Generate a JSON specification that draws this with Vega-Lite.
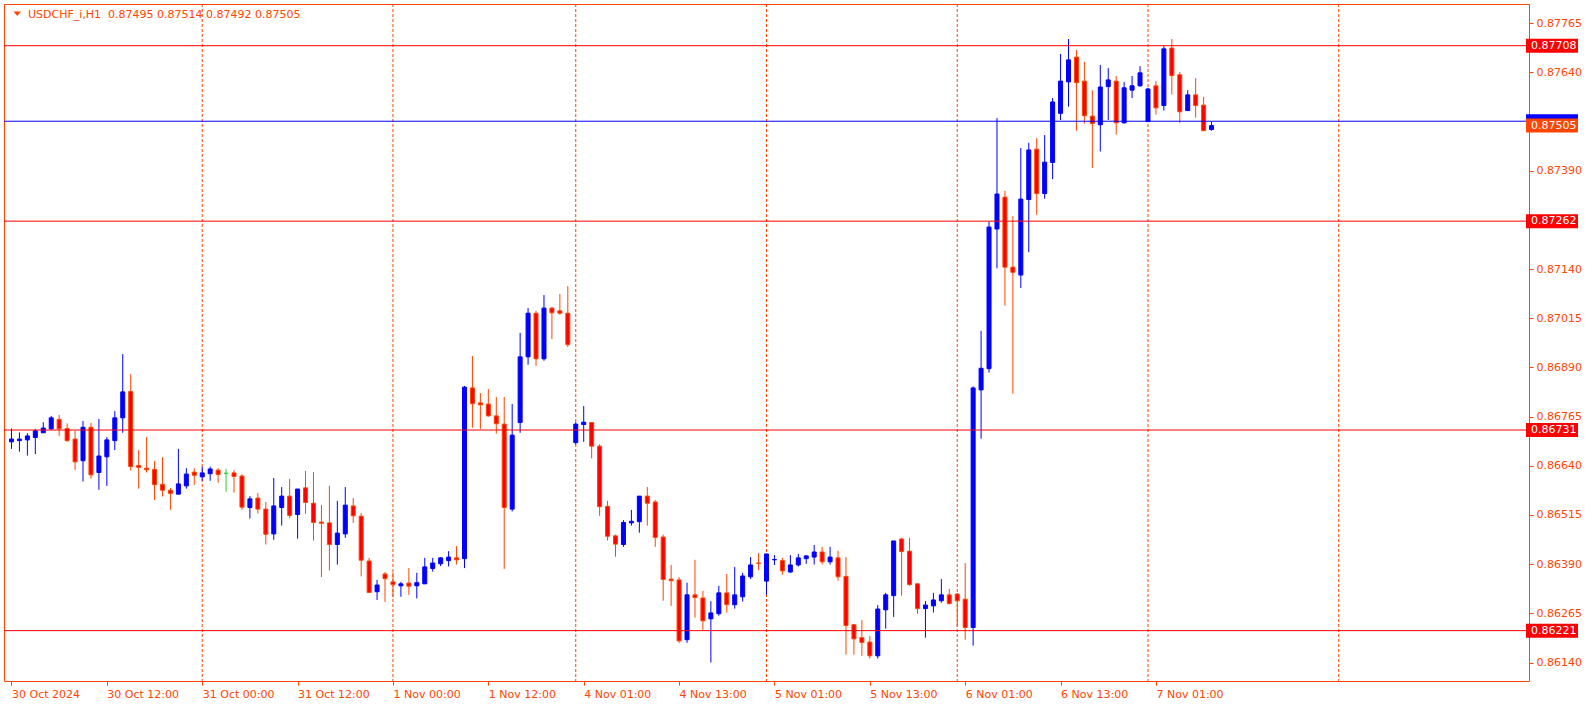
{
  "$schema": "https://vega.github.io/schema/vega-lite/v6.json",
  "width": 1525,
  "height": 677,
  "autosize": {"type": "none"},
  "padding": {"left": 4, "top": 4, "right": 57, "bottom": 27},
  "background": "#FFFFFF",
  "config": {
    "view": {"stroke": "#FF4500", "strokeWidth": 1},
    "font": "DejaVu Sans",
    "axis": {"labelFont": "DejaVu Sans", "labelFontSize": 11, "labelColor": "#FF4500", "tickColor": "#FF4500", "domain": false, "grid": false}
  },
  "datasets": {
    "candles": [
      {"i":0,"o":0.86701,"h":0.86735,"l":0.86683,"c":0.86708,"d":"up"},
      {"i":1,"o":0.86704,"h":0.86725,"l":0.86676,"c":0.86708,"d":"up"},
      {"i":2,"o":0.86706,"h":0.86723,"l":0.86666,"c":0.86716,"d":"up"},
      {"i":3,"o":0.86712,"h":0.86734,"l":0.86670,"c":0.86729,"d":"up"},
      {"i":4,"o":0.86724,"h":0.86751,"l":0.86724,"c":0.86736,"d":"up"},
      {"i":5,"o":0.86734,"h":0.86767,"l":0.86731,"c":0.86762,"d":"up"},
      {"i":6,"o":0.86758,"h":0.86769,"l":0.86716,"c":0.86734,"d":"down"},
      {"i":7,"o":0.86735,"h":0.86748,"l":0.86701,"c":0.86704,"d":"down"},
      {"i":8,"o":0.86708,"h":0.86729,"l":0.86629,"c":0.86650,"d":"down"},
      {"i":9,"o":0.86653,"h":0.86754,"l":0.86600,"c":0.86738,"d":"up"},
      {"i":10,"o":0.86738,"h":0.86749,"l":0.86607,"c":0.86617,"d":"down"},
      {"i":11,"o":0.86623,"h":0.86759,"l":0.86579,"c":0.86665,"d":"up"},
      {"i":12,"o":0.86663,"h":0.86713,"l":0.86589,"c":0.86706,"d":"up"},
      {"i":13,"o":0.86704,"h":0.86779,"l":0.86680,"c":0.86762,"d":"up"},
      {"i":14,"o":0.86762,"h":0.86924,"l":0.86724,"c":0.86828,"d":"up"},
      {"i":15,"o":0.86829,"h":0.86873,"l":0.86628,"c":0.86638,"d":"down"},
      {"i":16,"o":0.86641,"h":0.86680,"l":0.86582,"c":0.86636,"d":"down"},
      {"i":17,"o":0.86634,"h":0.86713,"l":0.86623,"c":0.86630,"d":"down"},
      {"i":18,"o":0.86631,"h":0.86652,"l":0.86553,"c":0.86592,"d":"down"},
      {"i":19,"o":0.86593,"h":0.86662,"l":0.86562,"c":0.86578,"d":"down"},
      {"i":20,"o":0.86578,"h":0.86584,"l":0.86528,"c":0.86570,"d":"down"},
      {"i":21,"o":0.86568,"h":0.86683,"l":0.86567,"c":0.86594,"d":"up"},
      {"i":22,"o":0.86589,"h":0.86634,"l":0.86582,"c":0.86619,"d":"up"},
      {"i":23,"o":0.86624,"h":0.86634,"l":0.86591,"c":0.86616,"d":"down"},
      {"i":24,"o":0.86612,"h":0.86638,"l":0.86602,"c":0.86622,"d":"up"},
      {"i":25,"o":0.86620,"h":0.86638,"l":0.86602,"c":0.86632,"d":"up"},
      {"i":26,"o":0.86629,"h":0.86634,"l":0.86597,"c":0.86618,"d":"down"},
      {"i":27,"o":0.86621,"h":0.86632,"l":0.86574,"c":0.86621,"d":"doji"},
      {"i":28,"o":0.86622,"h":0.86629,"l":0.86572,"c":0.86613,"d":"down"},
      {"i":29,"o":0.86614,"h":0.86619,"l":0.86528,"c":0.86535,"d":"down"},
      {"i":30,"o":0.86534,"h":0.86563,"l":0.86506,"c":0.86556,"d":"up"},
      {"i":31,"o":0.86558,"h":0.86571,"l":0.86519,"c":0.86530,"d":"down"},
      {"i":32,"o":0.86530,"h":0.86548,"l":0.86440,"c":0.86466,"d":"down"},
      {"i":33,"o":0.86467,"h":0.86609,"l":0.86452,"c":0.86538,"d":"up"},
      {"i":34,"o":0.86534,"h":0.86586,"l":0.86488,"c":0.86563,"d":"up"},
      {"i":35,"o":0.86563,"h":0.86607,"l":0.86507,"c":0.86514,"d":"down"},
      {"i":36,"o":0.86516,"h":0.86581,"l":0.86455,"c":0.86581,"d":"up"},
      {"i":37,"o":0.86584,"h":0.86627,"l":0.86518,"c":0.86547,"d":"down"},
      {"i":38,"o":0.86545,"h":0.86624,"l":0.86450,"c":0.86496,"d":"down"},
      {"i":39,"o":0.86497,"h":0.86540,"l":0.86357,"c":0.86494,"d":"down"},
      {"i":40,"o":0.86495,"h":0.86589,"l":0.86374,"c":0.86440,"d":"down"},
      {"i":41,"o":0.86440,"h":0.86551,"l":0.86389,"c":0.86469,"d":"up"},
      {"i":42,"o":0.86467,"h":0.86586,"l":0.86457,"c":0.86540,"d":"up"},
      {"i":43,"o":0.86538,"h":0.86558,"l":0.86495,"c":0.86513,"d":"down"},
      {"i":44,"o":0.86512,"h":0.86520,"l":0.86359,"c":0.86400,"d":"down"},
      {"i":45,"o":0.86398,"h":0.86406,"l":0.86317,"c":0.86318,"d":"down"},
      {"i":46,"o":0.86320,"h":0.86350,"l":0.86299,"c":0.86337,"d":"up"},
      {"i":47,"o":0.86365,"h":0.86370,"l":0.86294,"c":0.86353,"d":"down"},
      {"i":48,"o":0.86345,"h":0.86369,"l":0.86307,"c":0.86338,"d":"down"},
      {"i":49,"o":0.86335,"h":0.86345,"l":0.86307,"c":0.86340,"d":"up"},
      {"i":50,"o":0.86342,"h":0.86380,"l":0.86312,"c":0.86334,"d":"down"},
      {"i":51,"o":0.86335,"h":0.86368,"l":0.86303,"c":0.86343,"d":"up"},
      {"i":52,"o":0.86340,"h":0.86406,"l":0.86340,"c":0.86383,"d":"up"},
      {"i":53,"o":0.86379,"h":0.86406,"l":0.86371,"c":0.86393,"d":"up"},
      {"i":54,"o":0.86391,"h":0.86408,"l":0.86385,"c":0.86406,"d":"up"},
      {"i":55,"o":0.86399,"h":0.86423,"l":0.86384,"c":0.86408,"d":"up"},
      {"i":56,"o":0.86406,"h":0.86436,"l":0.86389,"c":0.86401,"d":"down"},
      {"i":57,"o":0.86404,"h":0.86843,"l":0.86380,"c":0.86840,"d":"up"},
      {"i":58,"o":0.86838,"h":0.86919,"l":0.86737,"c":0.86798,"d":"down"},
      {"i":59,"o":0.86800,"h":0.86825,"l":0.86734,"c":0.86795,"d":"down"},
      {"i":60,"o":0.86797,"h":0.86835,"l":0.86765,"c":0.86767,"d":"down"},
      {"i":61,"o":0.86767,"h":0.86815,"l":0.86722,"c":0.86747,"d":"down"},
      {"i":62,"o":0.86746,"h":0.86815,"l":0.86378,"c":0.86534,"d":"down"},
      {"i":63,"o":0.86530,"h":0.86797,"l":0.86524,"c":0.86718,"d":"up"},
      {"i":64,"o":0.86750,"h":0.86978,"l":0.86724,"c":0.86917,"d":"up"},
      {"i":65,"o":0.86917,"h":0.87041,"l":0.86897,"c":0.87028,"d":"up"},
      {"i":66,"o":0.87028,"h":0.87034,"l":0.86894,"c":0.86912,"d":"down"},
      {"i":67,"o":0.86912,"h":0.87074,"l":0.86907,"c":0.87041,"d":"up"},
      {"i":68,"o":0.87041,"h":0.87044,"l":0.86962,"c":0.87029,"d":"down"},
      {"i":69,"o":0.87034,"h":0.87077,"l":0.87024,"c":0.87028,"d":"down"},
      {"i":70,"o":0.87028,"h":0.87097,"l":0.86942,"c":0.86948,"d":"down"},
      {"i":71,"o":0.86699,"h":0.86751,"l":0.86694,"c":0.86746,"d":"up"},
      {"i":72,"o":0.86745,"h":0.86792,"l":0.86701,"c":0.86751,"d":"up"},
      {"i":73,"o":0.86750,"h":0.86751,"l":0.86659,"c":0.86690,"d":"down"},
      {"i":74,"o":0.86690,"h":0.86695,"l":0.86513,"c":0.86536,"d":"down"},
      {"i":75,"o":0.86537,"h":0.86551,"l":0.86450,"c":0.86461,"d":"down"},
      {"i":76,"o":0.86462,"h":0.86465,"l":0.86409,"c":0.86441,"d":"down"},
      {"i":77,"o":0.86440,"h":0.86502,"l":0.86434,"c":0.86496,"d":"up"},
      {"i":78,"o":0.86495,"h":0.86528,"l":0.86488,"c":0.86499,"d":"up"},
      {"i":79,"o":0.86498,"h":0.86563,"l":0.86470,"c":0.86563,"d":"up"},
      {"i":80,"o":0.86563,"h":0.86586,"l":0.86488,"c":0.86545,"d":"down"},
      {"i":81,"o":0.86548,"h":0.86553,"l":0.86434,"c":0.86458,"d":"down"},
      {"i":82,"o":0.86459,"h":0.86465,"l":0.86297,"c":0.86351,"d":"down"},
      {"i":83,"o":0.86352,"h":0.86388,"l":0.86284,"c":0.86348,"d":"down"},
      {"i":84,"o":0.86350,"h":0.86357,"l":0.86190,"c":0.86195,"d":"down"},
      {"i":85,"o":0.86198,"h":0.86343,"l":0.86190,"c":0.86312,"d":"up"},
      {"i":86,"o":0.86312,"h":0.86401,"l":0.86254,"c":0.86305,"d":"down"},
      {"i":87,"o":0.86304,"h":0.86322,"l":0.86223,"c":0.86246,"d":"down"},
      {"i":88,"o":0.86251,"h":0.86296,"l":0.86140,"c":0.86266,"d":"up"},
      {"i":89,"o":0.86264,"h":0.86335,"l":0.86259,"c":0.86317,"d":"up"},
      {"i":90,"o":0.86317,"h":0.86365,"l":0.86267,"c":0.86287,"d":"down"},
      {"i":91,"o":0.86287,"h":0.86383,"l":0.86277,"c":0.86312,"d":"up"},
      {"i":92,"o":0.86307,"h":0.86368,"l":0.86295,"c":0.86360,"d":"up"},
      {"i":93,"o":0.86358,"h":0.86408,"l":0.86352,"c":0.86388,"d":"up"},
      {"i":94,"o":0.86393,"h":0.86418,"l":0.86375,"c":0.86392,"d":"down"},
      {"i":95,"o":0.86347,"h":0.86416,"l":0.86312,"c":0.86416,"d":"up"},
      {"i":96,"o":0.86401,"h":0.86413,"l":0.86388,"c":0.86402,"d":"up"},
      {"i":97,"o":0.86399,"h":0.86406,"l":0.86363,"c":0.86373,"d":"down"},
      {"i":98,"o":0.86370,"h":0.86413,"l":0.86368,"c":0.86388,"d":"up"},
      {"i":99,"o":0.86388,"h":0.86416,"l":0.86384,"c":0.86406,"d":"up"},
      {"i":100,"o":0.86404,"h":0.86413,"l":0.86391,"c":0.86411,"d":"up"},
      {"i":101,"o":0.86408,"h":0.86439,"l":0.86389,"c":0.86421,"d":"up"},
      {"i":102,"o":0.86421,"h":0.86434,"l":0.86389,"c":0.86396,"d":"down"},
      {"i":103,"o":0.86396,"h":0.86434,"l":0.86389,"c":0.86408,"d":"up"},
      {"i":104,"o":0.86406,"h":0.86424,"l":0.86348,"c":0.86358,"d":"down"},
      {"i":105,"o":0.86359,"h":0.86408,"l":0.86160,"c":0.86234,"d":"down"},
      {"i":106,"o":0.86236,"h":0.86238,"l":0.86160,"c":0.86200,"d":"down"},
      {"i":107,"o":0.86203,"h":0.86248,"l":0.86157,"c":0.86191,"d":"down"},
      {"i":108,"o":0.86192,"h":0.86207,"l":0.86150,"c":0.86157,"d":"down"},
      {"i":109,"o":0.86157,"h":0.86286,"l":0.86150,"c":0.86276,"d":"up"},
      {"i":110,"o":0.86274,"h":0.86317,"l":0.86226,"c":0.86312,"d":"up"},
      {"i":111,"o":0.86310,"h":0.86449,"l":0.86256,"c":0.86449,"d":"up"},
      {"i":112,"o":0.86454,"h":0.86457,"l":0.86310,"c":0.86422,"d":"down"},
      {"i":113,"o":0.86423,"h":0.86457,"l":0.86335,"c":0.86338,"d":"down"},
      {"i":114,"o":0.86340,"h":0.86341,"l":0.86264,"c":0.86277,"d":"down"},
      {"i":115,"o":0.86277,"h":0.86296,"l":0.86203,"c":0.86286,"d":"up"},
      {"i":116,"o":0.86284,"h":0.86317,"l":0.86267,"c":0.86299,"d":"up"},
      {"i":117,"o":0.86297,"h":0.86352,"l":0.86292,"c":0.86312,"d":"up"},
      {"i":118,"o":0.86312,"h":0.86327,"l":0.86287,"c":0.86290,"d":"down"},
      {"i":119,"o":0.86314,"h":0.86317,"l":0.86231,"c":0.86297,"d":"down"},
      {"i":120,"o":0.86301,"h":0.86393,"l":0.86198,"c":0.86229,"d":"down"},
      {"i":121,"o":0.86229,"h":0.86842,"l":0.86183,"c":0.86838,"d":"up"},
      {"i":122,"o":0.86833,"h":0.86983,"l":0.86709,"c":0.86888,"d":"up"},
      {"i":123,"o":0.86887,"h":0.87261,"l":0.86877,"c":0.87247,"d":"up"},
      {"i":124,"o":0.87242,"h":0.87524,"l":0.87142,"c":0.87331,"d":"up"},
      {"i":125,"o":0.87323,"h":0.87339,"l":0.87047,"c":0.87145,"d":"down"},
      {"i":126,"o":0.87145,"h":0.87275,"l":0.86823,"c":0.87132,"d":"down"},
      {"i":127,"o":0.87125,"h":0.87448,"l":0.87092,"c":0.87318,"d":"up"},
      {"i":128,"o":0.87317,"h":0.87461,"l":0.87183,"c":0.87443,"d":"up"},
      {"i":129,"o":0.87445,"h":0.87473,"l":0.87278,"c":0.87332,"d":"down"},
      {"i":130,"o":0.87332,"h":0.87481,"l":0.87319,"c":0.87412,"d":"up"},
      {"i":131,"o":0.87411,"h":0.87575,"l":0.87369,"c":0.87565,"d":"up"},
      {"i":132,"o":0.87536,"h":0.87687,"l":0.87519,"c":0.87618,"d":"up"},
      {"i":133,"o":0.87616,"h":0.87725,"l":0.87553,"c":0.87672,"d":"up"},
      {"i":134,"o":0.87679,"h":0.87697,"l":0.87492,"c":0.87614,"d":"down"},
      {"i":135,"o":0.87618,"h":0.87667,"l":0.87510,"c":0.87530,"d":"down"},
      {"i":136,"o":0.87529,"h":0.87595,"l":0.87397,"c":0.87510,"d":"down"},
      {"i":137,"o":0.87507,"h":0.87659,"l":0.87439,"c":0.87603,"d":"up"},
      {"i":138,"o":0.87604,"h":0.87651,"l":0.87519,"c":0.87621,"d":"up"},
      {"i":139,"o":0.87618,"h":0.87631,"l":0.87482,"c":0.87512,"d":"down"},
      {"i":140,"o":0.87512,"h":0.87616,"l":0.87510,"c":0.87601,"d":"up"},
      {"i":141,"o":0.87595,"h":0.87631,"l":0.87575,"c":0.87606,"d":"up"},
      {"i":142,"o":0.87606,"h":0.87656,"l":0.87604,"c":0.87639,"d":"up"},
      {"i":143,"o":0.87515,"h":0.87601,"l":0.87515,"c":0.87598,"d":"up"},
      {"i":144,"o":0.87606,"h":0.87618,"l":0.87533,"c":0.87550,"d":"down"},
      {"i":145,"o":0.87556,"h":0.87707,"l":0.87543,"c":0.87700,"d":"up"},
      {"i":146,"o":0.87702,"h":0.87725,"l":0.87584,"c":0.87632,"d":"down"},
      {"i":147,"o":0.87634,"h":0.87641,"l":0.87512,"c":0.87540,"d":"down"},
      {"i":148,"o":0.87543,"h":0.87595,"l":0.87543,"c":0.87583,"d":"up"},
      {"i":149,"o":0.87583,"h":0.87626,"l":0.87525,"c":0.87556,"d":"down"},
      {"i":150,"o":0.87557,"h":0.87578,"l":0.87492,"c":0.87492,"d":"down"},
      {"i":151,"o":0.87495,"h":0.87514,"l":0.87492,"c":0.87505,"d":"up"}
    ],
    "seps": [{"i":24},{"i":48},{"i":71},{"i":95},{"i":119},{"i":143},{"i":167}],
    "levels": [{"p":0.87708},{"p":0.87262},{"p":0.86731},{"p":0.86221}],
    "ask": [{"p":0.87516}],
    "bid": [{"p":0.87505}],
    "info": [{"t":"USDCHF_i,H1\u00a0 0.87495 0.87514 0.87492 0.87505"}]
  },
  "layer": [
    {
      "data": {"name": "seps"},
      "mark": {"type": "rule", "stroke": "#FF4500", "strokeWidth": 1, "strokeDash": [3, 2]},
      "encoding": {
        "x": {"field": "i", "type": "quantitative", "scale": {"domain": [-0.3125, 190.3125], "nice": false, "zero": false},
          "axis": {"values": [0,12,24,36,48,60,72,84,96,108,120,132,144], "labelExpr": "['30 Oct 2024','30 Oct 12:00','31 Oct 00:00','31 Oct 12:00','1 Nov 00:00','1 Nov 12:00','4 Nov 01:00','4 Nov 13:00','5 Nov 01:00','5 Nov 13:00','6 Nov 01:00','6 Nov 13:00','7 Nov 01:00'][round(datum.value/12)]", "labelAlign": "left", "labelDx": -1, "labelBaseline": "top", "labelPadding": 3, "tickSize": 4, "labelFlush": false, "labelOverlap": false, "labelBound": false, "title": null}}
      }
    },
    {
      "data": {"name": "candles"},
      "mark": {"type": "rule", "strokeWidth": 1, "clip": true},
      "encoding": {
        "x": {"field": "i", "type": "quantitative"},
        "y": {"field": "l", "type": "quantitative", "scale": {"domain": [0.86093, 0.87814], "nice": false, "zero": false},
          "axis": {"orient": "right", "values": [0.8614,0.86265,0.8639,0.86515,0.8664,0.86765,0.8689,0.87015,0.8714,0.8739,0.8764,0.87765], "format": ".5f", "tickSize": 4, "labelPadding": 3, "labelAlign": "left", "labelBaseline": "middle", "title": null}},
        "y2": {"field": "h"},
        "stroke": {"field": "d", "type": "nominal", "scale": {"domain": ["up","down","doji"], "range": ["#0000FF","#FF4500","#32CD32"]}, "legend": null}
      }
    },
    {
      "data": {"name": "candles"},
      "mark": {"type": "bar", "width": 4, "strokeWidth": 1, "clip": true},
      "encoding": {
        "x": {"field": "i", "type": "quantitative"},
        "y": {"field": "o", "type": "quantitative"},
        "y2": {"field": "c"},
        "stroke": {"field": "d", "type": "nominal", "legend": null},
        "fill": {"field": "d", "type": "nominal", "scale": {"domain": ["up","down","doji"], "range": ["#0000FF","#FF0000","#32CD32"]}, "legend": null}
      }
    },
    {
      "data": {"name": "levels"},
      "mark": {"type": "rule", "stroke": "#FF0000", "strokeWidth": 1},
      "encoding": {"y": {"field": "p", "type": "quantitative"}}
    },
    {
      "data": {"name": "ask"},
      "mark": {"type": "rule", "stroke": "#0000FF", "strokeWidth": 1},
      "encoding": {"y": {"field": "p", "type": "quantitative"}}
    },
    {
      "data": {"name": "levels"},
      "mark": {"type": "point", "shape": "M2,-7H54V7H2Z", "size": 4, "filled": true, "fill": "#FF0000", "opacity": 1, "strokeWidth": 0},
      "encoding": {"x": {"datum": 190.3125, "type": "quantitative"}, "y": {"field": "p", "type": "quantitative"}}
    },
    {
      "data": {"name": "ask"},
      "mark": {"type": "point", "shape": "M2,-7H54V7H2Z", "size": 4, "filled": true, "fill": "#0000FF", "opacity": 1, "strokeWidth": 0},
      "encoding": {"x": {"datum": 190.3125, "type": "quantitative"}, "y": {"field": "p", "type": "quantitative"}}
    },
    {
      "data": {"name": "bid"},
      "mark": {"type": "point", "shape": "M2,-7H54V7H2Z", "size": 4, "filled": true, "fill": "#FF4500", "opacity": 1, "strokeWidth": 0},
      "encoding": {"x": {"datum": 190.3125, "type": "quantitative"}, "y": {"field": "p", "type": "quantitative"}}
    },
    {
      "data": {"name": "levels"},
      "mark": {"type": "text", "align": "left", "baseline": "middle", "dx": 7, "fontSize": 11, "font": "DejaVu Sans", "fill": "#FFFFFF"},
      "encoding": {"x": {"datum": 190.3125, "type": "quantitative"}, "y": {"field": "p", "type": "quantitative"}, "text": {"field": "p", "type": "quantitative", "format": ".5f"}}
    },
    {
      "data": {"name": "bid"},
      "mark": {"type": "text", "align": "left", "baseline": "middle", "dx": 7, "fontSize": 11, "font": "DejaVu Sans", "fill": "#FFFFFF"},
      "encoding": {"x": {"datum": 190.3125, "type": "quantitative"}, "y": {"field": "p", "type": "quantitative"}, "text": {"field": "p", "type": "quantitative", "format": ".5f"}}
    },
    {
      "data": {"name": "info"},
      "mark": {"type": "point", "shape": "M4.5,7.5H12L8.25,12Z", "size": 4, "filled": true, "fill": "#FF4500", "opacity": 1, "strokeWidth": 0},
      "encoding": {"x": {"datum": -0.3125, "type": "quantitative"}, "y": {"datum": 0.87814, "type": "quantitative"}}
    },
    {
      "data": {"name": "info"},
      "mark": {"type": "text", "align": "left", "baseline": "middle", "dx": 19, "dy": 11, "fontSize": 11, "font": "DejaVu Sans", "fill": "#FF4500"},
      "encoding": {"x": {"datum": -0.3125, "type": "quantitative"}, "y": {"datum": 0.87814, "type": "quantitative"}, "text": {"field": "t"}}
    }
  ]
}
